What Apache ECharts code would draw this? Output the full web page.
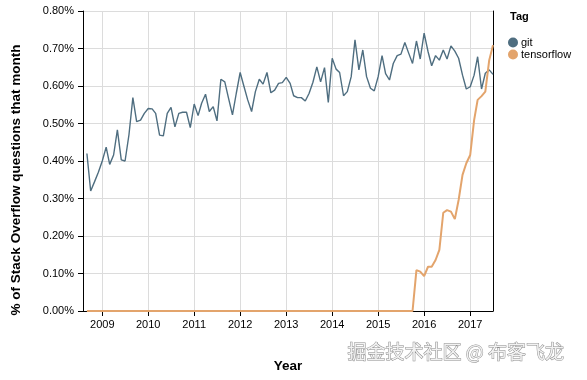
<!DOCTYPE html>
<html>
<head>
<meta charset="utf-8">
<script src="https://cdn.jsdelivr.net/npm/echarts@6/dist/echarts.min.js"></script>
<style>
html,body{margin:0;padding:0;background:#fff;}
#chart{width:587px;height:380px;}
</style>
</head>
<body>
<div id="chart"></div>
<script>
// Monthly data, Sep 2008 .. Jul 2017 (107 months)
var startYear = 2008, startMonth = 9, monthCount = 107;
var seriesNames = ['git', 'tensorflow'];
var gitValues = [
  0.42, 0.32, 0.345, 0.37, 0.40, 0.437, 0.391, 0.416, 0.483, 0.403,
  0.40, 0.47, 0.569, 0.505, 0.509, 0.527, 0.54, 0.539, 0.527, 0.469,
  0.467, 0.527, 0.543, 0.491, 0.527, 0.53, 0.53, 0.489, 0.552, 0.521,
  0.554, 0.578, 0.532, 0.545, 0.507, 0.618, 0.611, 0.567, 0.523, 0.58,
  0.636, 0.598, 0.563, 0.532, 0.585, 0.618, 0.605, 0.636, 0.582, 0.589,
  0.607, 0.609, 0.623, 0.607, 0.574, 0.569, 0.569, 0.56, 0.58, 0.61,
  0.651, 0.611, 0.649, 0.556, 0.674, 0.645, 0.636, 0.574, 0.585, 0.625,
  0.723, 0.643, 0.696, 0.625, 0.594, 0.587, 0.625, 0.681, 0.633, 0.616,
  0.66, 0.681, 0.685, 0.716, 0.687, 0.66, 0.72, 0.672, 0.741, 0.692,
  0.654, 0.681, 0.669, 0.696, 0.672, 0.707, 0.693, 0.674, 0.629, 0.592,
  0.598, 0.629, 0.678, 0.592, 0.634, 0.643, 0.631
];
var tensorflowValues = [
  0, 0, 0, 0, 0, 0, 0, 0, 0, 0,
  0, 0, 0, 0, 0, 0, 0, 0, 0, 0,
  0, 0, 0, 0, 0, 0, 0, 0, 0, 0,
  0, 0, 0, 0, 0, 0, 0, 0, 0, 0,
  0, 0, 0, 0, 0, 0, 0, 0, 0, 0,
  0, 0, 0, 0, 0, 0, 0, 0, 0, 0,
  0, 0, 0, 0, 0, 0, 0, 0, 0, 0,
  0, 0, 0, 0, 0, 0, 0, 0, 0, 0,
  0, 0, 0, 0, 0, 0, 0.109, 0.105, 0.093, 0.118,
  0.118, 0.136, 0.163, 0.262, 0.269, 0.265, 0.245, 0.296, 0.363, 0.394,
  0.416, 0.509, 0.563, 0.573, 0.585, 0.669, 0.709
];
var yTicks = [0, 0.1, 0.2, 0.3, 0.4, 0.5, 0.6, 0.7, 0.8];
var xTitle = 'Year';
var yTitle = '% of Stack Overflow questions that month';
var legendTitle = 'Tag';
var watermark = '掘金技术社区 @ 布客飞龙';

var months = [];
for (var i = 0; i < monthCount; i++) {
  var m = startMonth - 1 + i;
  var y = startYear + Math.floor(m / 12);
  var mm = (m % 12) + 1;
  months.push(y + '-' + (mm < 10 ? '0' + mm : mm) + '-01');
}
function pair(vals) { return months.map(function (d, i) { return [d, vals[i]]; }); }

var FONT = '"Liberation Sans", Arial, Helvetica, sans-serif';
var gitColor = '#4f6e80';
var tfColor = '#e3a46c';

var chart = echarts.init(document.getElementById('chart'), null, {renderer: 'canvas'});
chart.setOption({
  animation: false,
  backgroundColor: '#fff',
  textStyle: {fontFamily: FONT},
  grid: {left: 83, right: 94, top: 11, bottom: 69, containLabel: false},
  xAxis: {
    type: 'time',
    min: '2008-08-01',
    max: '2017-07-01',
    splitNumber: 9,
    name: xTitle,
    nameLocation: 'middle',
    nameGap: 48,
    nameTextStyle: {fontFamily: FONT, fontWeight: 'bold', fontSize: 13.5, color: '#000'},
    axisLine: {show: true, lineStyle: {color: '#000', width: 1}},
    axisTick: {show: true, length: 5, lineStyle: {color: '#000'}},
    axisLabel: {
      fontFamily: FONT, fontSize: 11, color: '#000', margin: 8,
      formatter: '{yyyy}', showMinLabel: false, showMaxLabel: false
    },
    splitLine: {show: true, lineStyle: {color: '#dcdcdc', width: 1}},
    minorTick: {show: false}
  },
  yAxis: [{
    type: 'value',
    min: yTicks[0],
    max: yTicks[yTicks.length - 1],
    interval: 0.1,
    axisLine: {show: true, lineStyle: {color: '#000', width: 1}},
    axisTick: {show: true, length: 5, lineStyle: {color: '#000'}},
    axisLabel: {
      fontFamily: FONT, fontSize: 11, color: '#000', margin: 9,
      formatter: function (v) { return v.toFixed(2) + '%'; }
    },
    splitLine: {show: true, lineStyle: {color: '#dcdcdc', width: 1}}
  }, {
    type: 'value',
    position: 'right',
    min: yTicks[0],
    max: yTicks[yTicks.length - 1],
    axisLine: {show: true, lineStyle: {color: '#000', width: 1}},
    axisTick: {show: false},
    axisLabel: {show: false},
    splitLine: {show: false}
  }],
  legend: {
    orient: 'vertical',
    left: 503,
    top: 32,
    itemGap: 1,
    itemWidth: 10,
    itemHeight: 10,
    icon: 'circle',
    textStyle: {fontFamily: FONT, fontSize: 11, color: '#000', padding: [0, 0, 0, -2]},
    data: seriesNames
  },
  series: [{
    name: seriesNames[0],
    type: 'line',
    data: pair(gitValues),
    showSymbol: false,
    symbol: 'circle',
    color: gitColor,
    lineStyle: {color: gitColor, width: 1.4},
    z: 3
  }, {
    name: seriesNames[1],
    type: 'line',
    data: pair(tensorflowValues),
    showSymbol: false,
    symbol: 'circle',
    color: tfColor,
    lineStyle: {color: tfColor, width: 2},
    z: 4
  }],
  graphic: [{
    type: 'text',
    left: 510,
    top: 11,
    style: {text: legendTitle, font: 'bold 11px ' + FONT, fill: '#000'}
  }, {
    type: 'text',
    x: 16,
    y: 180,
    rotation: Math.PI / 2,
    style: {
      text: yTitle,
      font: 'bold 13.5px ' + FONT,
      fill: '#000',
      align: 'center',
      verticalAlign: 'middle'
    }
  }, {
    type: 'text',
    left: 347,
    top: 342,
    style: {
      text: watermark,
      font: '19px "Noto Sans CJK SC", sans-serif',
      fill: '#f2f2f2',
      stroke: '#8c8c8c',
      lineWidth: 1
    }
  }]
});
</script>
</body>
</html>
